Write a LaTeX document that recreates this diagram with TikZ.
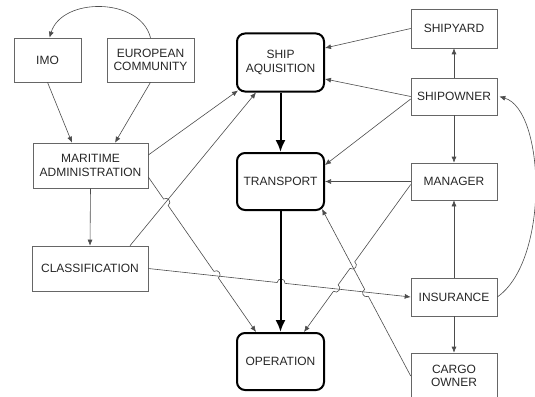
\documentclass[tikz,border=0pt]{standalone}
\usepackage{fontspec}
\setmainfont{Liberation Sans}
\usetikzlibrary{arrows.meta,calc}
\begin{document}
\begin{tikzpicture}[x=1pt,y=-1pt,
  txt/.style={font=\fontsize{12}{13.5}\selectfont, text=black!85, align=center, inner sep=0pt},
  box/.style={txt, draw=black!60, line width=0.6pt},
  rbox/.style={txt, draw=black, line width=2pt, rounded corners=8pt, minimum width=87pt},
  conn/.style={draw=black!70, line width=0.6pt, -{Latex[length=6pt,width=5pt]}},
  thickarr/.style={draw=black, line width=2pt, -{Latex[length=12pt,width=10pt]}},
  hopup/.style={bend left=90, looseness=1.7}]
\useasboundingbox (0,0) rectangle (535,396);
% boxes
\node[box, minimum width=67pt, minimum height=44pt] (imo) at (47.5,60) {IMO};
\node[box, minimum width=87pt, minimum height=44pt] (ec) at (150.5,60) {EUROPEAN\\COMMUNITY};
\node[box, minimum width=115pt, minimum height=45pt] (ma) at (90.5,165.5) {MARITIME\\ADMINISTRATION};
\node[box, minimum width=116pt, minimum height=45pt] (cls) at (90,268.5) {CLASSIFICATION};
\node[rbox, minimum height=58pt] (sa) at (280.5,62.5) {SHIP\\AQUISITION};
\node[rbox, minimum height=57pt] (tr) at (280.5,181.5) {TRANSPORT};
\node[rbox, minimum height=57pt] (op) at (280.5,361.5) {OPERATION};
\node[box, minimum width=86pt, minimum height=39pt] (yard) at (454,28.5) {SHIPYARD};
\node[box, minimum width=86pt, minimum height=37pt] (own) at (454,96.5) {SHIPOWNER};
\node[box, minimum width=86pt, minimum height=37pt] (mgr) at (454,181.5) {MANAGER};
\node[box, minimum width=86pt, minimum height=38pt] (ins) at (454,297) {INSURANCE};
\node[box, minimum width=86pt, minimum height=46pt] (cargo) at (454,376) {CARGO\\OWNER};
% left side connectors
\draw[conn] (ec.north) .. controls (140,-3) and (62,-3) .. ($(imo.north)+(2,0)$);
\draw[conn] (imo.south) -- ($(ma.north)+(-18.5,0)$);
\draw[conn] (ec.south) -- ($(ma.north)+(24.5,0)$);
\draw[conn] (ma.south) -- (cls.north);
\draw[conn] ($(ma.east)+(0,-10.5)$) -- ($(sa.south west)+(2,-2)$);
\draw[conn] ($(cls.north)+(40,0)$) -- ($(sa.south west)+(20,0)$);
\coordinate (maA) at ($(ma.east)+(0,11.5)$);
\coordinate (maB) at ($(op.north west)+(20,0)$);
\draw[conn] (maA) -- ($(maA)!0.142!(maB)$) to[hopup] ($(maA)!0.184!(maB)$)
  -- ($(maA)!0.609!(maB)$) to[hopup] ($(maA)!0.651!(maB)$) -- (maB);
\draw[conn] (cls.east) -- ($(cls.east)!0.491!(ins.west)$) to[hopup] ($(cls.east)!0.521!(ins.west)$) -- (ins.west);
% main chain
\draw[thickarr] (sa.south) -- (tr.north);
\draw[thickarr] (tr.south) -- (op.north);
% right side connectors
\draw[conn] (yard.west) -- ($(sa.east)+(0,-14.5)$);
\draw[conn] (own.north) -- (yard.south);
\draw[conn] (own.west) -- ($(sa.east)+(0,16.5)$);
\draw[conn] ($(own.west)+(0,2.5)$) -- ($(tr.east)+(0,-16.5)$);
\draw[conn] (own.south) -- (mgr.north);
\draw[conn] (mgr.west) -- (tr.east);
\coordinate (mgA) at ($(mgr.west)+(0,3)$);
\coordinate (mgB) at ($(op.north east)+(-21,0)$);
\draw[conn] (mgA) -- ($(mgA)!0.5245!(mgB)$) to[hopup] ($(mgA)!0.5685!(mgB)$)
  -- ($(mgA)!0.680!(mgB)$) to[hopup] ($(mgA)!0.724!(mgB)$) -- (mgB);
\draw[conn] (ins.north) -- (mgr.south);
\draw[conn] (ins.south) -- (cargo.north);
\draw[conn] (ins.east) .. controls (550,260) and (545,110) .. ($(own.east)+(2,0)$);
\coordinate (cgB) at ($(tr.south east)+(-3,-2)$);
\draw[conn] (cargo.west) -- ($(cargo.west)!0.477!(cgB)$) to[hopup] ($(cargo.west)!0.519!(cgB)$) -- (cgB);
\end{tikzpicture}
\end{document}
